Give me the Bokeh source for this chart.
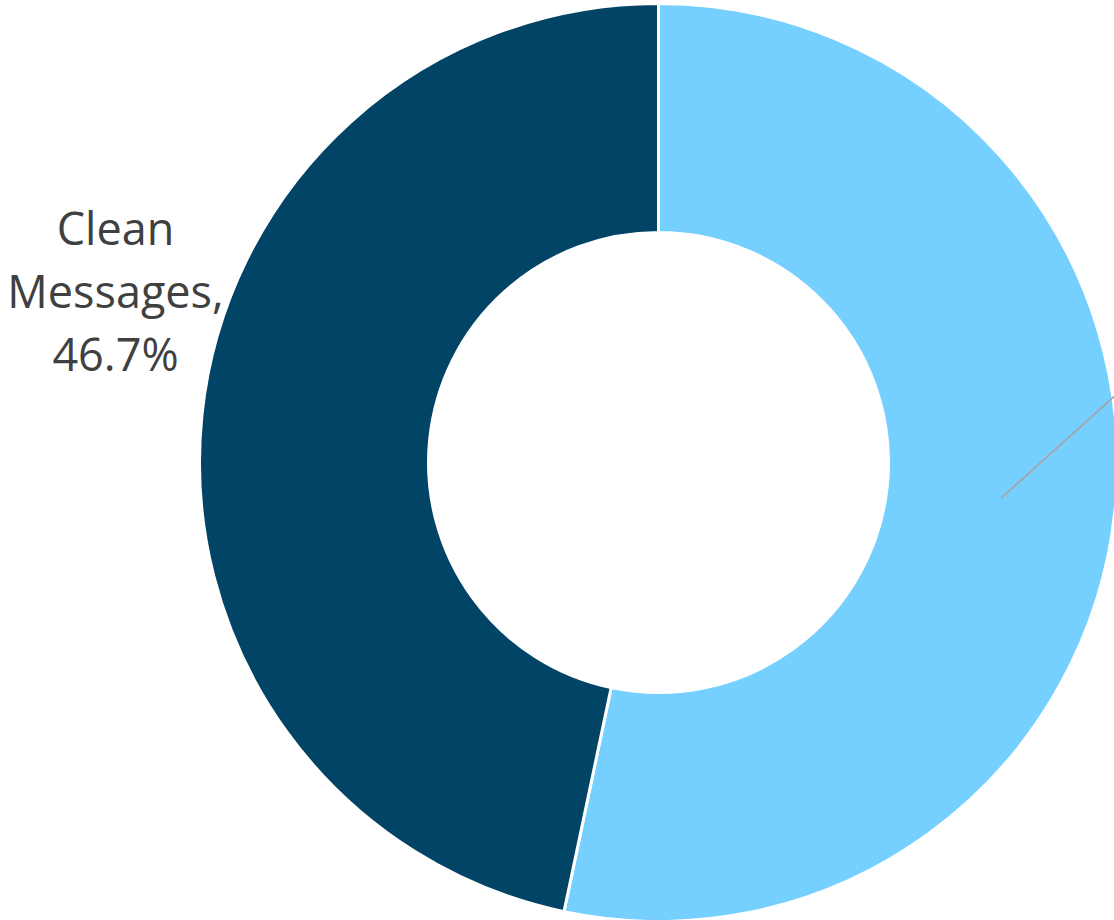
import math
from bokeh.plotting import figure
from bokeh.models import ColumnDataSource, Range1d
from bokeh.core.properties import value
from bokeh.embed import file_html
from bokeh.resources import INLINE

# ---- data ----
categories = ["Spam Messages", "Clean Messages"]
shares = [53.3, 46.7]
colors = ["#75CFFF", "#024466"]

W, H = 1114, 920
p = figure(width=W, height=H, output_backend="svg", toolbar_location=None,
           x_range=Range1d(0, W), y_range=Range1d(0, H), min_border=0)
p.axis.visible = False
p.grid.visible = False
p.outline_line_color = None
p.background_fill_color = "white"
p.border_fill_color = "white"

cx, cy = 658, 920 - 462
r_out, r_in = 459, 230

# clean starts at 12 o'clock going counterclockwise; spam fills the rest
total = sum(shares)
clean_span = shares[1] / total * 2 * math.pi
starts = [math.pi / 2 + clean_span - 2 * math.pi, math.pi / 2]
ends = [math.pi / 2, math.pi / 2 + clean_span]

src = ColumnDataSource(dict(x=[cx, cx], y=[cy, cy], start=starts, end=ends,
                            color=colors, cat=categories))
p.annular_wedge(x="x", y="y", inner_radius=r_in, outer_radius=r_out,
                start_angle="start", end_angle="end", fill_color="color",
                line_color="white", line_width=3, source=src)

# leader line for the spam label (label itself lies outside the view)
mid = (starts[0] + ends[0]) / 2
rm = (r_in + r_out) / 2
x0 = cx + rm * math.cos(mid)
y0 = cy + rm * math.sin(mid)
p.line([x0, x0 + 130], [y0, y0 + 117], line_color="#A6A6A6", line_width=1.8)

# clean messages label
lines = ["Clean", "Messages,", f"{shares[1]:.1f}%"]
p.text(x=[115, 115, 115], y=[920 - 227, 920 - 290, 920 - 353], text=lines,
       text_font=value("Open Sans"), text_font_size="45px", text_color="#404040",
       text_align="center", text_baseline="middle")

open("out.html", "w").write(file_html(p, INLINE))
